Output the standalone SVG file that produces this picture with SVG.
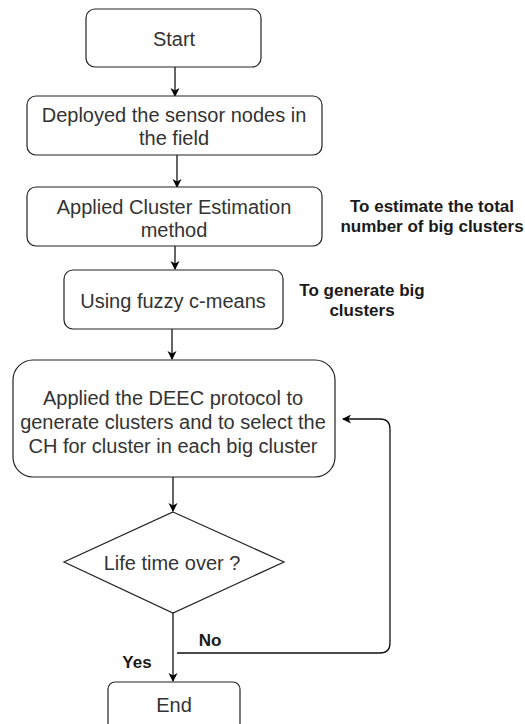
<svg xmlns="http://www.w3.org/2000/svg" width="525" height="724" viewBox="0 0 525 724">
<defs>
<marker id="ah" markerWidth="10" markerHeight="10" refX="8" refY="5" orient="auto" markerUnits="userSpaceOnUse">
<path d="M0,0.5 L9,5 L0,9.5 L2.5,5 Z" fill="#000"/>
</marker>
</defs>
<style>
.box{fill:#fff;stroke:#222;stroke-width:1.2}
.t{font-family:"Liberation Sans",Arial,sans-serif;font-size:20px;fill:#333;text-anchor:middle}
.l{font-family:"Liberation Sans",Arial,sans-serif;font-size:17px;font-weight:bold;fill:#1a1a1a;text-anchor:middle}
.c{fill:none;stroke:#111;stroke-width:1.3}
</style>
<rect width="525" height="724" fill="#fff"/>
<g id="connectors">
<line class="c" x1="175" y1="67" x2="175" y2="96" marker-end="url(#ah)"/>
<line class="c" x1="177" y1="155" x2="177" y2="187" marker-end="url(#ah)"/>
<line class="c" x1="175" y1="246" x2="175" y2="269" marker-end="url(#ah)"/>
<line class="c" x1="172" y1="329" x2="172" y2="359" marker-end="url(#ah)"/>
<line class="c" x1="173" y1="477" x2="173" y2="511" marker-end="url(#ah)"/>
<line class="c" x1="173" y1="613" x2="173" y2="681" marker-end="url(#ah)"/>
<path class="c" d="M177,653 L380,653 Q390,653 390,643 L390,429 Q390,419 380,419 L343,419" marker-end="url(#ah)"/>
<text class="l" x="210" y="646">No</text>
<text class="l" x="137" y="668">Yes</text>
</g>
<g id="start">
<rect class="box" x="86" y="9" width="175" height="58" rx="9"/>
<text class="t" x="174" y="46">Start</text>
</g>
<g id="deploy">
<rect class="box" x="27" y="96" width="295" height="59" rx="9"/>
<text class="t" x="174" y="122">Deployed the sensor nodes in</text>
<text class="t" x="174" y="145">the field</text>
</g>
<g id="estimate">
<rect class="box" x="27" y="187" width="295" height="59" rx="9"/>
<text class="t" x="174" y="214">Applied Cluster Estimation</text>
<text class="t" x="174" y="237">method</text>
<text class="l" x="432" y="212">To estimate the total</text>
<text class="l" x="432" y="232">number of big clusters</text>
</g>
<g id="fuzzy">
<rect class="box" x="64" y="270" width="219" height="59" rx="9"/>
<text class="t" x="173" y="308">Using fuzzy c-means</text>
<text class="l" x="362" y="296">To generate big</text>
<text class="l" x="362" y="316">clusters</text>
</g>
<g id="deec">
<rect class="box" x="13" y="360" width="322" height="117" rx="20"/>
<text class="t" x="173" y="405">Applied the DEEC protocol to</text>
<text class="t" x="173" y="429">generate clusters and to select the</text>
<text class="t" x="173" y="453">CH for cluster in each big cluster</text>
</g>
<g id="decision">
<polygon class="box" points="173,512 284,562 173,613 64,562"/>
<text class="t" x="172" y="570">Life time over ?</text>
</g>
<g id="end">
<rect class="box" x="108" y="682" width="132" height="50" rx="7"/>
<text class="t" x="174" y="712">End</text>
</g>
</svg>
